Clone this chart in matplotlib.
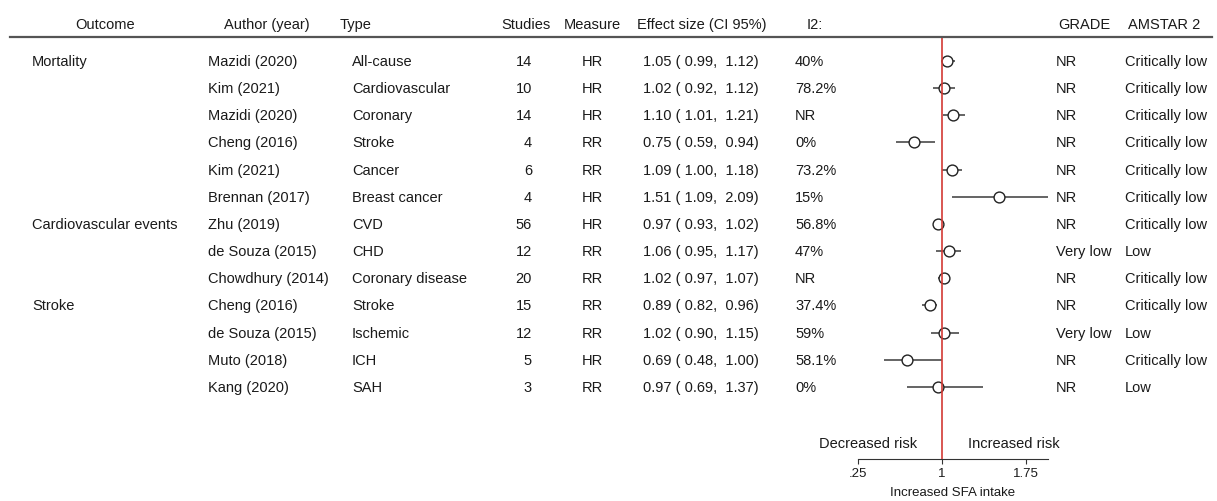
import numpy as np
import matplotlib
matplotlib.use("Agg")
import matplotlib.pyplot as plt
from matplotlib.lines import Line2D
from matplotlib import transforms

outcomes = ["Mortality", "", "", "", "", "", "Cardiovascular events", "", "", "Stroke", "", "", ""]
authors = ["Mazidi (2020)", "Kim (2021)", "Mazidi (2020)", "Cheng (2016)", "Kim (2021)", "Brennan (2017)",
           "Zhu (2019)", "de Souza (2015)", "Chowdhury (2014)", "Cheng (2016)", "de Souza (2015)",
           "Muto (2018)", "Kang (2020)"]
types = ["All-cause", "Cardiovascular", "Coronary", "Stroke", "Cancer", "Breast cancer",
         "CVD", "CHD", "Coronary disease", "Stroke", "Ischemic", "ICH", "SAH"]
studies = [14, 10, 14, 4, 6, 4, 56, 12, 20, 15, 12, 5, 3]
measures = ["HR", "HR", "HR", "RR", "RR", "HR", "HR", "RR", "RR", "RR", "RR", "HR", "RR"]
effect = [1.05, 1.02, 1.10, 0.75, 1.09, 1.51, 0.97, 1.06, 1.02, 0.89, 1.02, 0.69, 0.97]
lower = [0.99, 0.92, 1.01, 0.59, 1.00, 1.09, 0.93, 0.95, 0.97, 0.82, 0.90, 0.48, 0.69]
upper = [1.12, 1.12, 1.21, 0.94, 1.18, 2.09, 1.02, 1.17, 1.07, 0.96, 1.15, 1.00, 1.37]
i2 = ["40%", "78.2%", "NR", "0%", "73.2%", "15%", "56.8%", "47%", "NR", "37.4%", "59%", "58.1%", "0%"]
grade = ["NR", "NR", "NR", "NR", "NR", "NR", "NR", "Very low", "NR", "NR", "Very low", "NR", "NR"]
amstar = ["Critically low"] * 7 + ["Low", "Critically low", "Critically low", "Low", "Critically low", "Low"]

ticks = [0.25, 1, 1.75]
tick_labels = [".25", "1", "1.75"]

plt.rcParams['font.family'] = ['Liberation Sans', 'DejaVu Sans']
txt_color = '#1a1a1a'
fs = 10.5

W, H = 1217, 502
fig = plt.figure(figsize=(W / 100, H / 100), dpi=100)


def fx(px):
    return px / W


ax = fig.add_axes([fx(858), 1 - 460 / H, fx(1048 - 858), (460 - 38) / H])
rows = np.arange(len(authors))
ax.set_xlim(0.25, 1.95)
ax.set_ylim(14.65, -0.88)

ax.hlines(rows, lower, upper, color='#3a3a3a', lw=1.1, zorder=2)
ax.plot(effect, rows, 'o', ms=7.8, mfc='white', mec='#222222', mew=1.0, zorder=3)
ax.axvline(1, color='#d33a35', lw=1.2, zorder=4)

for s in ['top', 'left', 'right']:
    ax.spines[s].set_visible(False)
ax.spines['bottom'].set_color('#333333')
ax.spines['bottom'].set_linewidth(0.8)
ax.set_yticks([])
ax.set_xticks(ticks)
ax.set_xticklabels(tick_labels)
ax.tick_params(axis='x', length=3.6, width=0.8, pad=2, labelsize=9.5, colors='#333333', labelcolor=txt_color)
ax.set_xlabel('Increased SFA intake', fontsize=9.5, labelpad=5, color=txt_color)

ax.annotate('Decreased risk', xy=(1, 14.06), xytext=(-18, 0), textcoords='offset points',
            ha='right', va='center', fontsize=fs, color=txt_color)
ax.annotate('Increased risk', xy=(1, 14.06), xytext=(19, 0), textcoords='offset points',
            ha='left', va='center', fontsize=fs, color=txt_color)

tr = transforms.blended_transform_factory(fig.transFigure, ax.transData)


def put(x, y, s, ha='left'):
    ax.text(fx(x), y, s, transform=tr, ha=ha, va='center', fontsize=fs, color=txt_color, clip_on=False)


header_y = -1.36
put(105, header_y, 'Outcome', 'center')
put(267, header_y, 'Author (year)', 'center')
put(340, header_y, 'Type')
put(526, header_y, 'Studies', 'center')
put(592, header_y, 'Measure', 'center')
put(637, header_y, 'Effect size (CI 95%)')
put(807, header_y, 'I2:')
put(1058, header_y, 'GRADE')
put(1128, header_y, 'AMSTAR 2')

fig.add_artist(Line2D([fx(10), fx(1212)], [1 - 38 / H] * 2, transform=fig.transFigure,
                      color='#555555', lw=1.6))

for i in rows:
    put(32, i, outcomes[i])
    put(208, i, authors[i])
    put(352, i, types[i])
    put(532, i, str(studies[i]), 'right')
    put(592, i, measures[i], 'center')
    put(643, i, f"{effect[i]:.2f} ( {lower[i]:.2f},  {upper[i]:.2f})")
    put(795, i, i2[i])
    put(1056, i, grade[i])
    put(1125, i, amstar[i])

fig.savefig('out.png', dpi=100)
